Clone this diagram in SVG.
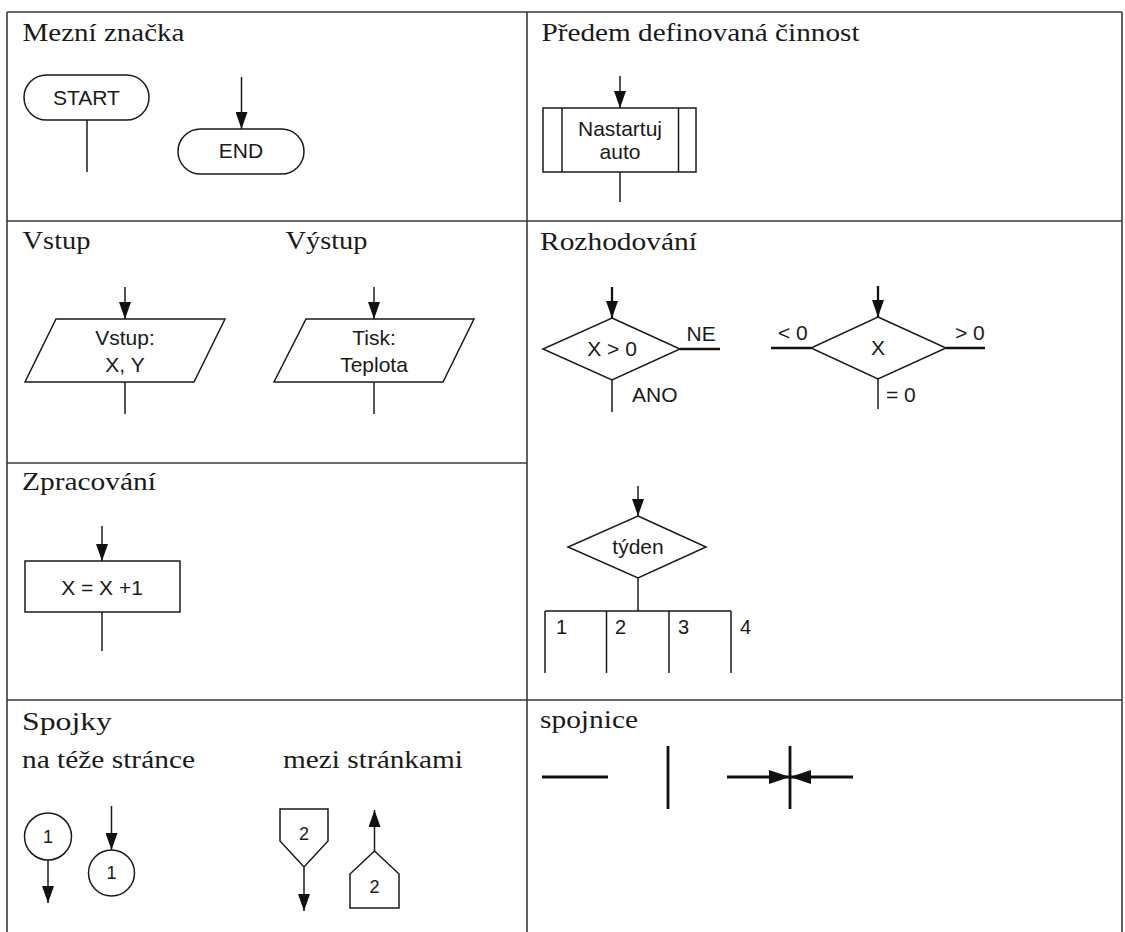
<svg xmlns="http://www.w3.org/2000/svg" width="1125" height="932" viewBox="0 0 1125 932">
<defs>
<style>
.grid{stroke:#3a3a3a;stroke-width:1.6;fill:none}
.title{font-family:"Liberation Serif","Times New Roman",serif;font-size:26px;fill:#1a1a1a}
.lbl{font-family:"Liberation Sans",Arial,sans-serif;font-size:21px;fill:#1a1a1a;text-anchor:middle}
.st{text-anchor:start}
.sm{font-size:18px}
.md{font-size:20px}
.shape{fill:#fff;stroke:#1a1a1a;stroke-width:1.5}
.line{stroke:#1a1a1a;stroke-width:1.5;fill:none}
.thick{stroke:#111;stroke-width:2.3;fill:none}
.heavy{stroke:#111;stroke-width:2.8;fill:none}
</style>
<marker id="ah" viewBox="0 0 17 12" refX="17" refY="6" markerWidth="17" markerHeight="12" markerUnits="userSpaceOnUse" orient="auto">
<path d="M0,0 L17,6 L0,12 z" fill="#111"/>
</marker>
<marker id="ahBig" viewBox="0 0 21 14" refX="21" refY="7" markerWidth="21" markerHeight="14" markerUnits="userSpaceOnUse" orient="auto">
<path d="M0,0 L21,7 L0,14 z" fill="#111"/>
</marker>
</defs>
<rect width="1125" height="932" fill="#fff"/>

<!-- table frame -->
<g id="grid" class="grid">
<path d="M7,12 H1122 M7,12 V932 M1122,12 V932 M527,12 V932 M7,221 H1122 M7,463 H527 M7,700 H1122"/>
</g>

<!-- section headings -->
<g id="titles" class="title">
<text x="22.5" y="41" textLength="162" lengthAdjust="spacingAndGlyphs">Mezní značka</text>
<text x="541.5" y="41" textLength="318" lengthAdjust="spacingAndGlyphs">Předem definovaná činnost</text>
<text x="22.5" y="249" textLength="68" lengthAdjust="spacingAndGlyphs">Vstup</text>
<text x="285.5" y="249" textLength="82" lengthAdjust="spacingAndGlyphs">Výstup</text>
<text x="540" y="250" textLength="157" lengthAdjust="spacingAndGlyphs">Rozhodování</text>
<text x="22" y="490" textLength="134" lengthAdjust="spacingAndGlyphs">Zpracování</text>
<text x="22" y="730" textLength="90" lengthAdjust="spacingAndGlyphs">Spojky</text>
<text x="22" y="768" textLength="173" lengthAdjust="spacingAndGlyphs">na téže stránce</text>
<text x="283" y="768" textLength="180" lengthAdjust="spacingAndGlyphs">mezi stránkami</text>
<text x="540" y="728" textLength="98" lengthAdjust="spacingAndGlyphs">spojnice</text>
</g>

<!-- symbols -->
<g id="start">
<rect class="shape" x="24" y="75" width="125" height="45" rx="22.5"/>
<text class="lbl" x="86.5" y="105">START</text>
</g>
<g id="end">
<rect class="shape" x="178" y="129" width="126" height="45" rx="22.5"/>
<text class="lbl" x="241" y="158">END</text>
</g>
<g id="predefined">
<rect class="shape" x="543" y="108" width="153" height="64"/>
<path class="line" d="M562,108 V172 M678.5,108 V172"/>
<text class="lbl" x="620" y="136">Nastartuj</text>
<text class="lbl" x="620" y="159">auto</text>
</g>
<g id="input">
<polygon class="shape" points="56,319 225,319 194,382 25,382"/>
<text class="lbl" x="125" y="345">Vstup:</text>
<text class="lbl" x="125" y="372">X, Y</text>
</g>
<g id="output">
<polygon class="shape" points="306,319 474,319 443,382 274,382"/>
<text class="lbl" x="374" y="345">Tisk:</text>
<text class="lbl" x="374" y="372">Teplota</text>
</g>
<g id="decision-yes-no">
<polygon class="shape" points="612,318 680,349 612,380 543,349"/>
<text class="lbl" x="612" y="356">X &gt; 0</text>
<text class="lbl st" x="686.5" y="341">NE</text>
<text class="lbl st" x="632" y="402">ANO</text>
</g>
<g id="decision-sign">
<polygon class="shape" points="878,317 946,348 878,379 811,348"/>
<text class="lbl" x="878" y="355">X</text>
<text class="lbl st" x="778" y="340">&lt; 0</text>
<text class="lbl st" x="955" y="340">&gt; 0</text>
<text class="lbl st" x="886" y="402">= 0</text>
</g>
<g id="process">
<rect class="shape" x="25" y="561" width="155" height="51"/>
<text class="lbl" x="102" y="595">X = X +1</text>
</g>
<g id="case">
<polygon class="shape" points="638,516 706,547 638,578 568,547"/>
<text class="lbl" x="638" y="554">týden</text>
<text class="lbl st md" x="556" y="634">1</text>
<text class="lbl st md" x="615" y="634">2</text>
<text class="lbl st md" x="678" y="634">3</text>
<text class="lbl st md" x="740" y="634">4</text>
</g>
<g id="connector-out">
<circle class="shape" cx="48" cy="836.5" r="23.5"/>
<text class="lbl sm" x="48" y="843">1</text>
</g>
<g id="connector-in">
<circle class="shape" cx="111.5" cy="873" r="23"/>
<text class="lbl sm" x="111.5" y="879">1</text>
</g>
<g id="offpage-out">
<polygon class="shape" points="280,809 328,809 328,841 304,867 280,841"/>
<text class="lbl sm" x="304" y="840">2</text>
</g>
<g id="offpage-in">
<polygon class="shape" points="350,908 399,908 399,874 374.5,851 350,874"/>
<text class="lbl sm" x="374.5" y="893">2</text>
</g>

<!-- flow lines -->
<g id="connectors">
<path class="line" d="M87,120 V172"/>
<path class="line" d="M241.5,77 V129" marker-end="url(#ah)"/>
<path class="line" d="M620,76 V108" marker-end="url(#ah)"/>
<path class="line" d="M620,172 V202"/>
<path class="line" d="M125,287 V319" marker-end="url(#ah)"/>
<path class="line" d="M125,382 V414"/>
<path class="line" d="M374,287 V319" marker-end="url(#ah)"/>
<path class="line" d="M374,382 V414"/>
<path class="thick" d="M612,287 V318" marker-end="url(#ah)"/>
<path class="thick" d="M680,349 H720"/>
<path class="line" d="M612,380 V412"/>
<path class="thick" d="M878,286 V317" marker-end="url(#ah)"/>
<path class="thick" d="M771,348 H811 M946,348 H985"/>
<path class="line" d="M878,379 V409"/>
<path class="line" d="M102,526 V561" marker-end="url(#ah)"/>
<path class="line" d="M102,612 V651"/>
<path class="line" d="M638,486 V516" marker-end="url(#ah)"/>
<path class="line" d="M638,578 V611 M545,611 H731 M545,611 V673 M606.5,611 V673 M669,611 V673 M731,611 V673"/>
<path class="line" d="M48,860 V903" marker-end="url(#ah)"/>
<path class="line" d="M111.5,806 V850" marker-end="url(#ah)"/>
<path class="line" d="M304,867 V911" marker-end="url(#ah)"/>
<path class="line" d="M374.5,851 V810" marker-end="url(#ah)"/>
<path class="heavy" d="M542,777 H608 M668,746 V809 M790,746 V809"/>
<path class="heavy" d="M727,777 H790" marker-end="url(#ahBig)"/>
<path class="heavy" d="M853,777 H790" marker-end="url(#ahBig)"/>
</g>
</svg>
